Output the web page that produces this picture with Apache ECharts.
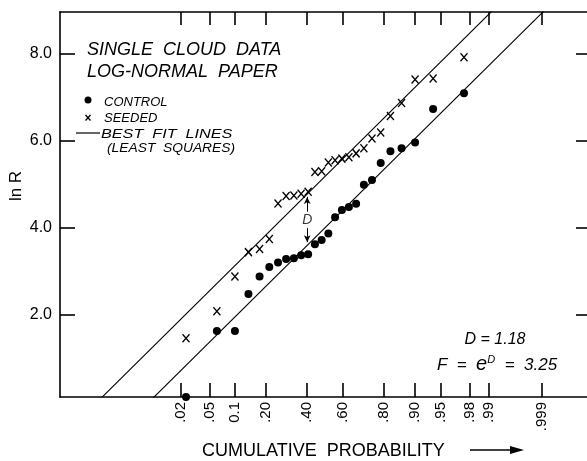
<!DOCTYPE html>
<html><head><meta charset="utf-8">
<script src="https://cdn.jsdelivr.net/npm/echarts@6/dist/echarts.min.js"></script>
<style>html,body{margin:0;padding:0;background:#fff}#c{width:587px;height:461px}</style>
</head><body><div id="c"></div>
<script>
// ---- data ----
const plotProb = [0.024,0.062,0.100,0.138,0.176,0.214,0.252,0.290,0.329,0.367,0.405,0.443,0.481,0.519,0.557,0.595,0.633,0.671,0.710,0.748,0.786,0.824,0.862,0.900,0.938,0.976];
const controlLnR = [0.10,1.62,1.62,2.47,2.87,3.09,3.19,3.27,3.29,3.36,3.38,3.61,3.71,3.86,4.23,4.40,4.47,4.54,4.98,5.09,5.48,5.75,5.82,5.95,6.72,7.08];
const seededLnR = [1.45,2.07,2.87,3.43,3.50,3.73,4.55,4.72,4.73,4.77,4.82,5.27,5.29,5.49,5.54,5.58,5.61,5.70,5.82,6.04,6.18,6.56,6.86,7.40,7.42,7.91];
const tickProbs = [0.02,0.05,0.1,0.2,0.4,0.6,0.8,0.9,0.95,0.98,0.99,0.999];
const tickLabels = ['.02','.05','0.1','.20','.40','.60','.80','.90','.95','.98','.99','.999'];
const yTicks = [2,4,6,8];
// best-fit lines (least squares): lnR = mean + slope * z
const fitSlope = 1.60;
const seededFitMean = 5.17;
const controlFitMean = 3.99;
// "D" annotation
const dProb = 0.40;
const dArrowUp = [4.36, 4.70];
const dArrowDown = [3.98, 3.66];
const dLabelLnR = 4.17;

// ---- probit (inverse normal CDF) ----
function probit(p){
  const a=[-3.969683028665376e+01,2.209460984245205e+02,-2.759285104469687e+02,1.383577518672690e+02,-3.066479806614716e+01,2.506628277459239e+00];
  const b=[-5.447609879822406e+01,1.615858368580409e+02,-1.556989798598866e+02,6.680131188771972e+01,-1.328068155288572e+01];
  const c=[-7.784894002430293e-03,-3.223964580411365e-01,-2.400758277161838e+00,-2.549671010228992e+00,4.374664141464968e+00,2.938163982698783e+00];
  const d=[7.784695709041462e-03,3.224671290700398e-01,2.445134137142996e+00,3.754408661907416e+00];
  const pl=0.02425, ph=1-pl; let q,r;
  if(p<pl){q=Math.sqrt(-2*Math.log(p));return (((((c[0]*q+c[1])*q+c[2])*q+c[3])*q+c[4])*q+c[5])/((((d[0]*q+d[1])*q+d[2])*q+d[3])*q+1);}
  if(p<=ph){q=p-0.5;r=q*q;return (((((a[0]*r+a[1])*r+a[2])*r+a[3])*r+a[4])*r+a[5])*q/(((((b[0]*r+b[1])*r+b[2])*r+b[3])*r+b[4])*r+1);}
  q=Math.sqrt(-2*Math.log(1-p));return -(((((c[0]*q+c[1])*q+c[2])*q+c[3])*q+c[4])*q+c[5])/((((d[0]*q+d[1])*q+d[2])*q+d[3])*q+1);
}

const zMin=-3.77, zMax=3.77, yMin=0.1, yMax=8.95;
const FONT='"Liberation Sans", Arial, sans-serif';
const zT = tickProbs.map(probit);
function xLabel(v){let bi=-1,bd=1e9;zT.forEach((z,i)=>{const dd=Math.abs(z-v);if(dd<bd){bd=dd;bi=i;}});return bd<1e-3?tickLabels[bi]:'';}
function fitLine(mean){return [[zMin,mean+fitSlope*zMin],[zMax,mean+fitSlope*zMax]];}
const zD = probit(dProb);
const AX = {color:'#000',width:1.6};

const chart = echarts.init(document.getElementById('c'), null, {renderer:'canvas'});
chart.setOption({
  animation:false,
  backgroundColor:'#fff',
  grid:{left:60,right:-3,top:12,bottom:64,outerBoundsMode:'none',containLabel:false},
  xAxis:[
    {type:'value',min:zMin,max:zMax,position:'bottom',
     axisLine:{show:true,onZero:false,lineStyle:AX},
     axisTick:{show:true,inside:true,length:14,customValues:zT,lineStyle:AX},
     axisLabel:{show:true,customValues:zT,rotate:90,margin:5,formatter:xLabel,fontSize:15,fontFamily:FONT,color:'#000'},
     splitLine:{show:false}},
    {type:'value',min:zMin,max:zMax,position:'top',
     axisLine:{show:true,onZero:false,lineStyle:AX},
     axisTick:{show:true,inside:true,length:13,customValues:zT,lineStyle:AX},
     axisLabel:{show:false,customValues:zT},
     splitLine:{show:false}}
  ],
  yAxis:[
    {type:'value',min:yMin,max:yMax,position:'left',
     axisLine:{show:true,onZero:false,lineStyle:AX},
     axisTick:{show:true,inside:true,length:15,customValues:yTicks,lineStyle:AX},
     axisLabel:{show:true,customValues:yTicks,margin:8,formatter:v=>v.toFixed(1),fontSize:16,fontFamily:FONT,color:'#000'},
     splitLine:{show:false}},
    {type:'value',min:yMin,max:yMax,position:'right',
     axisLine:{show:true,onZero:false,lineStyle:AX},
     axisTick:{show:true,inside:true,length:14,customValues:yTicks,lineStyle:AX},
     axisLabel:{show:false,customValues:yTicks},
     splitLine:{show:false}}
  ],
  series:[
    {type:'line',data:fitLine(seededFitMean),symbol:'none',clip:true,silent:true,lineStyle:{color:'#000',width:1.1}},
    {type:'line',data:fitLine(controlFitMean),symbol:'none',clip:true,silent:true,lineStyle:{color:'#000',width:1.1}},
    {type:'scatter',name:'CONTROL',data:plotProb.map((p,i)=>[probit(p),controlLnR[i]]),symbol:'circle',symbolSize:8,clip:false,itemStyle:{color:'#000',opacity:1}},
    {type:'scatter',name:'SEEDED',data:plotProb.map((p,i)=>[probit(p),seededLnR[i]]),symbol:'path://M0,0L10,11M10,0L0,11',symbolSize:[7,8],clip:false,itemStyle:{color:'transparent',borderColor:'#000',borderWidth:1.4,opacity:1}},
    {type:'scatter',data:[[zD,dLabelLnR]],symbolSize:1,itemStyle:{color:'transparent'},silent:true,
     label:{show:true,position:'inside',formatter:'D',fontStyle:'italic',fontSize:14,fontFamily:FONT,color:'#000'},
     markLine:{silent:true,symbol:['none','arrow'],symbolSize:[5,7],animation:false,label:{show:false},
       lineStyle:{color:'#000',width:1,type:'solid'},emphasis:{disabled:true},
       data:[[{coord:[zD,dArrowUp[0]]},{coord:[zD,dArrowUp[1]]}],[{coord:[zD,dArrowDown[0]]},{coord:[zD,dArrowDown[1]]}]]}}
  ],
  graphic:[
    {type:'text',x:87,y:50,style:{text:'SINGLE  CLOUD  DATA',font:'italic 18px '+FONT,fill:'#000',align:'left',verticalAlign:'middle'}},
    {type:'text',x:87,y:72,style:{text:'LOG-NORMAL  PAPER',font:'italic 18px '+FONT,fill:'#000',align:'left',verticalAlign:'middle'}},
    {type:'circle',shape:{cx:88,cy:100,r:3.5},style:{fill:'#000'}},
    {type:'text',x:104,y:102,style:{text:'CONTROL',font:'italic 13px '+FONT,fill:'#000',align:'left',verticalAlign:'middle'}},
    {type:'polyline',shape:{points:[[85.5,115],[90.5,120.5]]},style:{stroke:'#000',lineWidth:1.3}},
    {type:'polyline',shape:{points:[[90.5,115],[85.5,120.5]]},style:{stroke:'#000',lineWidth:1.3}},
    {type:'text',x:104,y:118,style:{text:'SEEDED',font:'italic 13px '+FONT,fill:'#000',align:'left',verticalAlign:'middle'}},
    {type:'line',shape:{x1:76,y1:133,x2:100,y2:133},style:{stroke:'#000',lineWidth:1.2}},
    {type:'text',x:101,y:134,scaleX:1.2,style:{text:'BEST  FIT  LINES',font:'italic 13.5px '+FONT,fill:'#000',align:'left',verticalAlign:'middle'}},
    {type:'text',x:107,y:149,scaleX:1.15,style:{text:'(LEAST  SQUARES)',font:'italic 12px '+FONT,fill:'#000',align:'left',verticalAlign:'middle'}},
    {type:'text',x:495,y:340,style:{text:'D = 1.18',font:'italic 16px '+FONT,fill:'#000',align:'center',verticalAlign:'middle'}},
    {type:'text',x:497,y:364,style:{text:'{a|F  =  }{e|e}{s|D}{a|  =  3.25}',align:'center',verticalAlign:'middle',
      rich:{a:{font:'italic 17px '+FONT,fill:'#000',verticalAlign:'bottom'},e:{font:'italic 20px '+FONT,fill:'#000',verticalAlign:'bottom'},s:{font:'italic 11px '+FONT,fill:'#000',verticalAlign:'top'}}}},
    {type:'text',x:16,y:186,rotation:Math.PI/2,style:{text:'ln R',font:'17px '+FONT,fill:'#000',align:'center',verticalAlign:'middle'}},
    {type:'text',x:202,y:451,style:{text:'CUMULATIVE  PROBABILITY',font:'18px '+FONT,fill:'#000',align:'left',verticalAlign:'middle'}},
    {type:'line',shape:{x1:470,y1:450,x2:512,y2:450},style:{stroke:'#000',lineWidth:1.6}},
    {type:'polygon',shape:{points:[[510,446],[524,450],[510,454]]},style:{fill:'#000'}}
  ]
});
</script></body></html>
